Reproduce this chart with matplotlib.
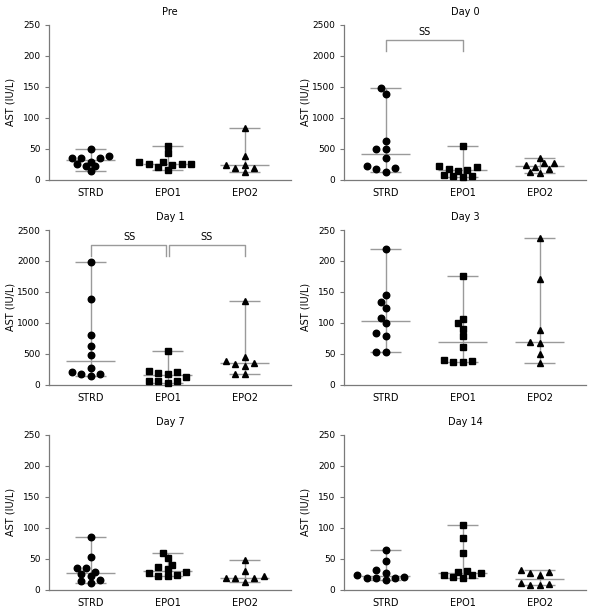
import numpy as np
import matplotlib
matplotlib.use("Agg")
import matplotlib.pyplot as plt

plt.rcParams['font.family'] = ['DejaVu Sans']

groups = ["STRD", "EPO1", "EPO2"]
markers = ["o", "s", "^"]

# AST values (IU/L) per time point, one list per group
pre_strd = [34, 22, 34, 49, 29, 13, 22, 34, 25, 38]
pre_epo1 = [29, 25, 25, 54, 16, 25, 43, 21, 29, 24]
pre_epo2 = [23, 18, 83, 38, 12, 18, 23]

d0_strd = [1390, 1487, 630, 490, 500, 340, 178, 124, 162, 216]
d0_epo1 = [65, 195, 35, 175, 60, 550, 135, 215, 60, 160]
d0_epo2 = [175, 230, 115, 260, 355, 110, 270, 200]

d1_strd = [265, 168, 1975, 1380, 806, 628, 482, 135, 162, 206]
d1_epo1 = [55, 200, 25, 185, 55, 545, 120, 215, 55, 175]
d1_epo2 = [438, 298, 346, 335, 384, 1350, 168, 173]

d3_strd = [220, 145, 133, 124, 107, 99, 84, 78, 53, 53]
d3_epo1 = [175, 106, 99, 90, 78, 60, 38, 37, 37, 40]
d3_epo2 = [237, 171, 88, 68, 67, 49, 35]

d7_strd = [85, 52, 34, 34, 25, 29, 22, 16, 14, 10]
d7_epo1 = [59, 51, 40, 36, 33, 28, 24, 22, 22, 26]
d7_epo2 = [48, 30, 22, 18, 18, 18, 12]

d14_strd = [64, 46, 32, 26, 24, 21, 18, 18, 18, 15]
d14_epo1 = [104, 84, 59, 26, 23, 30, 19, 29, 21, 24]
d14_epo2 = [31, 26, 23, 28, 9, 7, 8, 11]

titles = ["Pre", "Day 0", "Day 1", "Day 3", "Day 7", "Day 14"]
panel_data = [
    [pre_strd, pre_epo1, pre_epo2],
    [d0_strd, d0_epo1, d0_epo2],
    [d1_strd, d1_epo1, d1_epo2],
    [d3_strd, d3_epo1, d3_epo2],
    [d7_strd, d7_epo1, d7_epo2],
    [d14_strd, d14_epo1, d14_epo2],
]
y_max = [250, 2500, 2500, 250, 250, 250]
# significance brackets: (group a, group b)
brackets = {1: [(0, 1)], 2: [(0, 1), (1, 2)]}

spine_col = "#7a7a7a"
err_col = "#9a9a9a"


def swarm_offsets(ax, x0, vals, diam=6.3, step=4.7):
    # simple beeswarm in pixel space
    pts = []
    offs = np.zeros(len(vals))
    px_per_x = ax.transData.transform((1, 0))[0] - ax.transData.transform((0, 0))[0]
    order = np.argsort(vals)
    for i in order:
        py = ax.transData.transform((x0, vals[i]))[1]
        k = 0
        while True:
            for cand in ([0] if k == 0 else [-k, k]):
                dx = cand * step
                ok = all((dx - qx) ** 2 + (py - qy) ** 2 >= diam ** 2 for qx, qy in pts)
                if ok:
                    break
            else:
                k += 1
                continue
            break
        pts.append((dx, py))
        offs[i] = dx / px_per_x
    return offs


fig = plt.figure(figsize=(5.9, 6.11), dpi=100)
W, H = 590, 611
lefts = [49, 344]
tops = [25, 230, 435]
aw, ah = 242, 154.5

for n, (title, data) in enumerate(zip(titles, panel_data)):
    r, c = divmod(n, 2)
    ax = fig.add_axes([lefts[c] / W, 1 - (tops[r] + ah) / H, aw / W, ah / H])
    ymax = y_max[n]
    ax.set_xlim(-0.54, 2.6)
    ax.set_ylim(0, ymax)
    ax.set_yticks(np.linspace(0, ymax, 6))
    ax.set_xticks(range(3))
    ax.set_xticklabels(groups)
    for s in ["top", "right"]:
        ax.spines[s].set_visible(False)
    for s in ["left", "bottom"]:
        ax.spines[s].set_color(spine_col)
        ax.spines[s].set_linewidth(0.9)
    ax.tick_params(axis="y", length=3, width=0.8, color=spine_col, pad=3.2, labelsize=6.5)
    ax.tick_params(axis="x", length=0, pad=6, labelsize=7)
    ax.set_ylabel("AST (IU/L)", fontsize=7, va="center")
    ax.yaxis.set_label_coords(-0.158, 0.5)
    ax.set_title(title, fontsize=7, pad=7)

    for g, vals in enumerate(data):
        vals = np.array(vals, dtype=float)
        lo, hi, med = vals.min(), vals.max(), np.median(vals)
        ax.vlines(g, lo, hi, color=err_col, lw=1.0, zorder=1)
        ax.hlines([lo, hi], g - 0.2, g + 0.2, color=err_col, lw=1.0, zorder=1)
        ax.hlines(med, g - 0.32, g + 0.32, color=err_col, lw=1.0, zorder=1)
        offs = swarm_offsets(ax, g, vals)
        ms = 4.7 if markers[g] == "o" else (4.3 if markers[g] == "s" else 5.0)
        ax.plot(g + offs, vals, linestyle="none", marker=markers[g], color="black",
                markersize=ms, zorder=3, clip_on=False)

    for a, b in brackets.get(n, []):
        y1, y0 = 0.9 * ymax, 0.83 * ymax
        xa = a + (0.02 if a > 0 else 0)
        xb = b - (0.02 if b < 2 and len(brackets[n]) > 1 else 0)
        ax.plot([xa, xa, xb, xb], [y0, y1, y1, y0], color=err_col, lw=1.0)
        ax.text((a + b) / 2, 0.925 * ymax, "SS", ha="center", va="bottom", fontsize=7)

fig.savefig("out.png", dpi=100)
